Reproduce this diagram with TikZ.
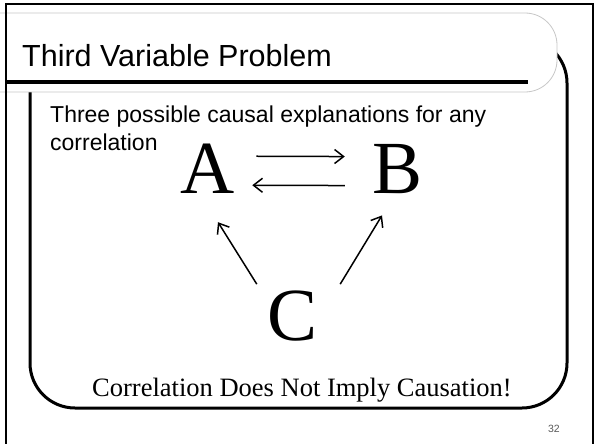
\documentclass[tikz,border=0pt]{standalone}
\usepackage{fontspec}
\setmainfont{Liberation Serif}
\setsansfont{Liberation Sans}
\usetikzlibrary{arrows.meta}
\tikzset{
  big/.style={inner sep=0pt, font=\fontsize{75}{80}\selectfont\rmfamily, anchor=base},
  arr/.style={line width=1.5pt, -{Straight Barb[length=9pt,width=14pt,line width=1.5pt]}},
  contentbox/.style={line width=3pt, rounded corners=45pt},
  titlebox/.style={fill=white, draw=black!22, line width=0.8pt, rounded corners=32pt},
}
\begin{document}
\begin{tikzpicture}[x=1pt,y=-1pt]
\useasboundingbox (0,0) rectangle (595,444);
\clip (0,0) rectangle (595,444);
\fill[white] (0,0) rectangle (595,444);
% content box
\draw[contentbox] (30,38) rectangle (567,408);
% title box
\path[titlebox] (-60,13) rectangle (557,92);
\draw[line width=3.2pt] (6,82) -- (528,82);
% outer frame
\draw[line width=2.5pt] (6,4) rectangle (593,470);
% texts
\node[inner sep=0pt, anchor=base west, font=\fontsize{30.5}{36}\sffamily\selectfont] (title) at (22,67) {Third Variable Problem};
\node[inner sep=0pt, anchor=base west, align=left, font=\fontsize{23}{28}\sffamily\selectfont] (intro) at (50,150) {Three possible causal explanations for any\\correlation};
\node[big] (A) at (208,193) {A};
\node[big] (B) at (397.5,193) {B};
\node[big] (C) at (293,340) {C};
\draw[arr] ([shift={(21,-12)}]A.east) -- ([shift={(-27.5,-12)}]B.west);
\draw[arr] ([shift={(-27.5,17)}]B.west) -- ([shift={(17,17)}]A.east);
\draw[arr] ([shift={(-11,-6)}]C.north west) -- ([shift={(10,29)}]A.south);
\draw[arr] ([shift={(22,-6)}]C.north east) -- ([shift={(-15.5,22)}]B.south);
\node[inner sep=0pt, anchor=base, font=\fontsize{26.5}{30}\rmfamily\selectfont] (motto) at (302,396) {Correlation Does Not Imply Causation!};
\node[inner sep=0pt, anchor=base east, text=black!65, font=\fontsize{10.5}{12}\sffamily\selectfont] (page) at (560,432) {32};
\end{tikzpicture}
\end{document}
